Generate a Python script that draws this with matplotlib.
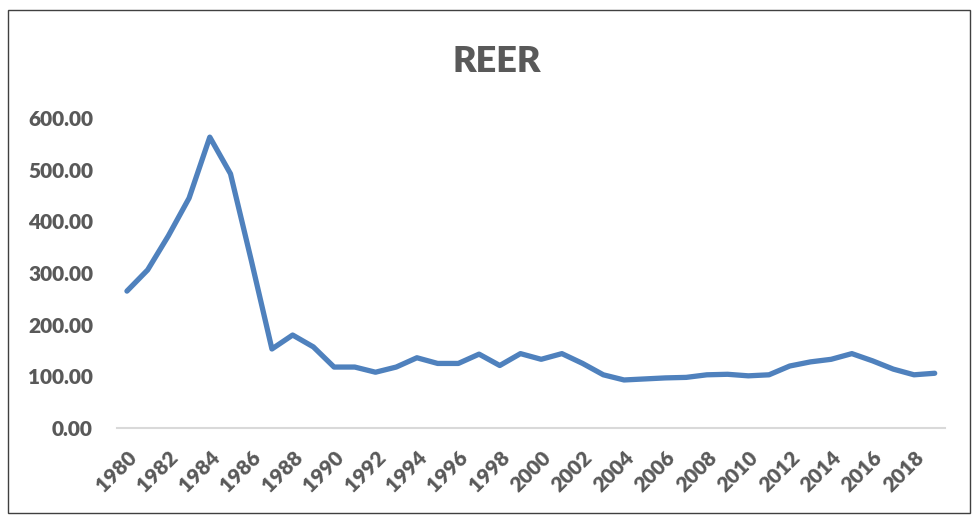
import matplotlib.pyplot as plt
from matplotlib.patches import Rectangle

years = list(range(1980, 2020))
reer = [265, 306, 372, 445, 563, 492, 325, 153, 180, 157,
        118, 118, 108, 118, 136, 125, 125, 143, 121, 144,
        133, 144, 125, 103, 93, 95, 97, 98, 103, 104,
        101, 103, 120, 128, 133, 144, 130, 114, 103, 106]
tick_years = list(range(1980, 2019, 2))
y_ticks = [0, 100, 200, 300, 400, 500, 600]

plt.rcParams['font.family'] = ['Lato', 'DejaVu Sans']
gray = '#595959'

fig = plt.figure(figsize=(9.74, 5.16), dpi=100)
ax = fig.add_axes([0.1197, 0.1705, 0.8506, 0.6008])

ax.plot(years, reer, color='#4F81BD', linewidth=3.8, solid_capstyle='round')

ax.set_xlim(1979.5, 2019.5)
ax.set_ylim(0, 600)
ax.set_yticks(y_ticks)
ax.set_yticklabels([f'{v:.2f}' for v in y_ticks], fontsize=15, fontweight='heavy', color=gray)
ax.set_xticks(tick_years)
ax.set_xticklabels([str(y) for y in tick_years], rotation=45, ha='right', rotation_mode='anchor',
                   fontsize=15, fontweight='heavy', color=gray)
ax.tick_params(length=0)
ax.tick_params(axis='x', pad=14)
ax.tick_params(axis='y', pad=17)

for s in ['top', 'right', 'left']:
    ax.spines[s].set_visible(False)
ax.spines['bottom'].set_color('#D9D9D9')
ax.spines['bottom'].set_linewidth(1.5)

fig.text(0.51, 0.88, 'REER', ha='center', va='center', fontsize=26, fontweight='heavy', color=gray)

fig.patches.append(Rectangle((0.008, 0.006), 0.988, 0.975, transform=fig.transFigure,
                             fill=False, edgecolor='#404040', linewidth=1))

fig.savefig('out.png', dpi=100)
